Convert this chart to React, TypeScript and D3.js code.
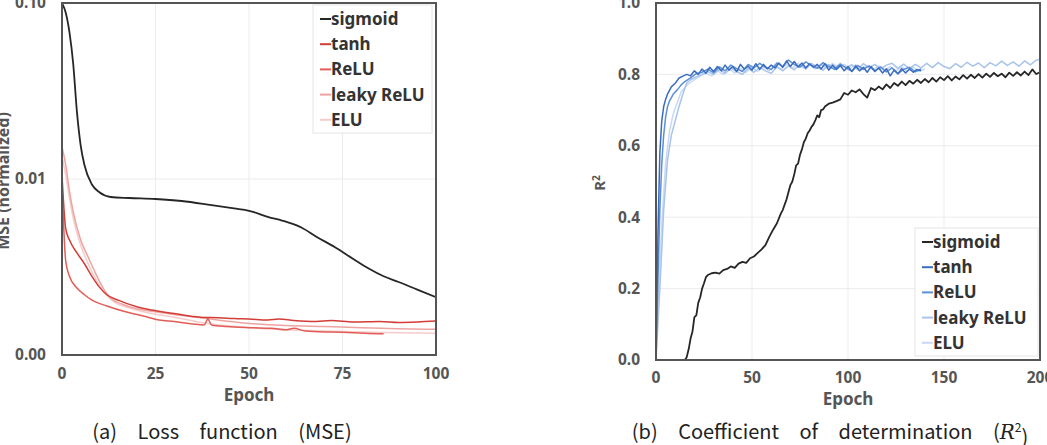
import React, { useEffect, useRef } from 'react';
import * as d3 from 'd3';

type Pt = [number, number];

// ---- (a) MSE, log scale ----
const mseTicksX = [0, 25, 50, 75, 100];
const mseTicksY = [0.1, 0.01, 0.001];
const mseTickLabels = ['0.10', '0.01', '0.00'];

const mseSigmoid: Pt[] = [
  [0, 0.1], [1, 0.088], [2, 0.068], [3, 0.045], [4, 0.024], [5, 0.0155], [6, 0.012], [8, 0.0093],
  [10, 0.0084], [13, 0.0079], [18, 0.0078], [25, 0.0077], [32, 0.0075], [40, 0.0071], [46, 0.0068],
  [50, 0.0066], [55, 0.0061], [60, 0.0057], [64, 0.0053], [68, 0.0047], [73, 0.0041], [78, 0.0035],
  [82, 0.0031], [86, 0.0028], [90, 0.0026], [95, 0.00235], [100, 0.00213],
];
const mseTanh: Pt[] = [
  [0, 0.0105], [1, 0.0052], [2, 0.0045], [4, 0.0038], [6, 0.0033], [8, 0.0028], [10, 0.00243],
  [12, 0.0022], [15, 0.00205], [20, 0.00188], [24, 0.0018], [30, 0.00172], [37, 0.00164],
  [42, 0.00163], [46, 0.00161], [50, 0.0016], [55, 0.00158], [58, 0.0016], [62, 0.00157],
  [68, 0.00155], [72, 0.00157], [78, 0.00154], [85, 0.00155], [90, 0.00153], [95, 0.00154], [100, 0.00156],
];
const mseRelu: Pt[] = [
  [0, 0.0095], [1, 0.0034], [2, 0.0028], [4, 0.0024], [6, 0.0022], [8, 0.00205], [12, 0.0019],
  [17, 0.00176], [22, 0.00166], [26, 0.00158], [30, 0.00155], [35, 0.0015], [38, 0.00148],
  [39, 0.0016], [40, 0.00148], [44, 0.00145], [50, 0.00143], [56, 0.00142], [60, 0.00139],
  [62, 0.00142], [65, 0.00137], [72, 0.00135], [78, 0.00134], [81, 0.00133], [86, 0.00132],
];
const mseLeaky: Pt[] = [
  [0, 0.0152], [1, 0.012], [2, 0.0085], [3, 0.0065], [5, 0.0045], [7, 0.0036], [9, 0.0029],
  [11, 0.0024], [13, 0.0021], [16, 0.00195], [20, 0.00183], [25, 0.00176], [30, 0.0017],
  [38, 0.00162], [45, 0.00155], [52, 0.0015], [60, 0.00147], [70, 0.00145], [80, 0.00143],
  [90, 0.00141], [100, 0.0014],
];
const mseElu: Pt[] = [
  [0, 0.0135], [1, 0.0105], [2, 0.0078], [3, 0.006], [5, 0.0042], [7, 0.0033], [9, 0.0027],
  [11, 0.0023], [14, 0.002], [18, 0.00185], [24, 0.00172], [30, 0.00164], [38, 0.00152],
  [45, 0.00146], [52, 0.00142], [60, 0.00139], [70, 0.00137], [80, 0.00135], [90, 0.00134], [100, 0.00133],
];

// ---- (b) R^2 ----
const r2TicksX = [0, 50, 100, 150, 200];
const r2TicksY = [0, 0.2, 0.4, 0.6, 0.8, 1.0];

const r2Sigmoid: Pt[] = [
  [0, 0], [15, 0], [16, 0.008], [17, 0.03], [18, 0.06], [19, 0.08], [20, 0.12], [21, 0.125], [22, 0.16],
  [23, 0.175], [24, 0.2], [25, 0.215], [26, 0.232], [27, 0.238], [29, 0.243], [31, 0.245], [33, 0.242],
  [35, 0.252], [37, 0.255], [39, 0.262], [41, 0.258], [43, 0.27], [45, 0.275], [47, 0.272], [49, 0.285],
  [51, 0.29], [53, 0.3], [55, 0.31], [57, 0.322], [59, 0.345], [61, 0.365], [63, 0.383], [65, 0.41],
  [66, 0.42], [68, 0.45], [70, 0.49], [71, 0.5], [72, 0.52], [73, 0.545], [74, 0.55], [75, 0.575],
  [76, 0.59], [77, 0.61], [78, 0.62], [79, 0.635], [80, 0.643], [81, 0.653], [82, 0.66], [83, 0.672],
  [84, 0.685], [85, 0.68], [86, 0.7], [87, 0.702], [88, 0.71], [90, 0.718], [92, 0.721], [94, 0.725],
  [96, 0.73], [98, 0.748], [100, 0.743], [102, 0.755], [104, 0.75], [106, 0.758], [108, 0.745],
  [110, 0.735], [112, 0.762], [114, 0.756], [116, 0.766], [118, 0.758], [120, 0.772], [122, 0.762],
  [124, 0.776], [126, 0.768], [128, 0.78], [130, 0.77], [132, 0.782], [134, 0.774], [136, 0.785],
  [138, 0.776], [140, 0.787], [142, 0.778], [144, 0.79], [146, 0.78], [148, 0.792], [150, 0.784],
  [152, 0.795], [154, 0.783], [156, 0.794], [158, 0.786], [160, 0.798], [162, 0.788], [164, 0.799],
  [166, 0.79], [168, 0.801], [170, 0.791], [172, 0.802], [174, 0.793], [176, 0.804], [178, 0.795],
  [180, 0.802], [182, 0.792], [184, 0.805], [186, 0.796], [188, 0.806], [190, 0.797], [192, 0.808],
  [194, 0.798], [196, 0.814], [198, 0.801], [200, 0.806],
];
const r2Tanh: Pt[] = [
  [0, 0], [1, 0.35], [2, 0.58], [3, 0.67], [4, 0.71], [5, 0.73], [6, 0.745], [8, 0.765], [10, 0.775],
  [12, 0.79], [14, 0.795], [16, 0.8], [18, 0.796], [20, 0.81], [22, 0.8], [24, 0.815], [26, 0.803],
  [28, 0.82], [30, 0.808], [32, 0.822], [34, 0.81], [36, 0.826], [38, 0.812], [40, 0.822], [42, 0.808],
  [44, 0.828], [46, 0.815], [48, 0.823], [50, 0.812], [52, 0.83], [54, 0.814], [56, 0.828], [58, 0.816],
  [60, 0.826], [62, 0.818], [64, 0.832], [66, 0.82], [68, 0.838], [70, 0.822], [72, 0.836], [74, 0.821],
  [76, 0.832], [78, 0.818], [80, 0.83], [82, 0.82], [84, 0.828], [86, 0.815], [88, 0.83], [90, 0.812],
  [92, 0.826], [94, 0.814], [96, 0.825], [98, 0.81], [100, 0.822], [102, 0.808], [104, 0.824], [106, 0.81],
  [108, 0.82], [110, 0.806], [112, 0.822], [114, 0.808], [116, 0.818], [118, 0.804], [120, 0.816],
  [122, 0.796], [124, 0.812], [126, 0.802], [128, 0.816], [130, 0.804], [132, 0.815], [134, 0.806],
  [136, 0.814], [138, 0.81],
];
const r2Relu: Pt[] = [
  [0, 0], [1, 0.22], [2, 0.42], [3, 0.55], [4, 0.63], [5, 0.68], [6, 0.71], [7, 0.725], [9, 0.745],
  [11, 0.756], [13, 0.77], [15, 0.78], [18, 0.79], [21, 0.802], [24, 0.806], [27, 0.815], [30, 0.805],
  [33, 0.821], [36, 0.81], [39, 0.826], [42, 0.816], [45, 0.808], [48, 0.828], [51, 0.818], [54, 0.831],
  [57, 0.82], [60, 0.814], [63, 0.832], [66, 0.822], [69, 0.84], [72, 0.828], [75, 0.82], [78, 0.835],
  [81, 0.825], [84, 0.817], [87, 0.833], [90, 0.822], [93, 0.814], [96, 0.828], [99, 0.818], [102, 0.809],
  [105, 0.825], [108, 0.814], [111, 0.824], [114, 0.81], [117, 0.821], [120, 0.807], [123, 0.818],
  [126, 0.802], [129, 0.814], [132, 0.82], [135, 0.807], [138, 0.815],
];
const r2Leaky: Pt[] = [
  [0, 0], [2, 0.2], [4, 0.42], [6, 0.56], [8, 0.63], [10, 0.67], [12, 0.71], [14, 0.745], [16, 0.776],
  [18, 0.785], [21, 0.793], [24, 0.8], [27, 0.808], [30, 0.8], [33, 0.814], [36, 0.803], [39, 0.818],
  [42, 0.808], [45, 0.8], [48, 0.817], [51, 0.806], [54, 0.82], [57, 0.81], [60, 0.803], [63, 0.821],
  [66, 0.81], [69, 0.824], [72, 0.813], [75, 0.827], [78, 0.815], [81, 0.831], [84, 0.82], [87, 0.812],
  [90, 0.828], [93, 0.817], [96, 0.831], [99, 0.818], [102, 0.827], [105, 0.814], [108, 0.83], [111, 0.818],
  [114, 0.828], [117, 0.815], [120, 0.826], [123, 0.831], [126, 0.817], [129, 0.829], [132, 0.816],
  [135, 0.828], [138, 0.818], [141, 0.831], [144, 0.819], [147, 0.833], [150, 0.822], [153, 0.816],
  [156, 0.83], [159, 0.82], [162, 0.834], [165, 0.823], [168, 0.832], [171, 0.819], [174, 0.833],
  [177, 0.824], [180, 0.837], [183, 0.825], [186, 0.835], [189, 0.823], [192, 0.838], [195, 0.827],
  [198, 0.84], [200, 0.842],
];
const r2Elu: Pt[] = [
  [0, 0], [1, 0.15], [3, 0.38], [5, 0.55], [7, 0.64], [9, 0.69], [11, 0.72], [13, 0.75], [16, 0.77],
  [20, 0.785], [23, 0.795], [26, 0.803], [29, 0.796], [32, 0.81], [35, 0.8], [38, 0.815], [41, 0.804],
  [44, 0.817], [47, 0.806], [50, 0.82], [53, 0.808], [56, 0.822], [59, 0.81], [62, 0.825], [65, 0.814],
  [68, 0.828], [71, 0.817], [74, 0.831], [77, 0.818], [80, 0.828], [83, 0.815], [86, 0.829], [89, 0.817],
  [92, 0.831], [95, 0.819], [98, 0.828], [101, 0.816], [104, 0.827], [107, 0.814], [110, 0.825],
  [113, 0.813], [116, 0.824], [119, 0.811], [122, 0.822], [125, 0.81], [128, 0.821], [131, 0.809],
  [134, 0.82], [137, 0.808], [140, 0.815],
];

const names = ['sigmoid', 'tanh', 'ReLU', 'leaky ReLU', 'ELU'];
const redColors = ['#262626', '#d23d38', '#e25d58', '#eea3a1', '#f6cccb'];
const blueColors = ['#262626', '#3a6cbf', '#5d8fd5', '#a8c4ea', '#c8daf3'];

const FONT = "'Noto Sans', 'DejaVu Sans', sans-serif";
const CAP_FONT = "'Noto Sans CJK KR', 'Noto Sans', sans-serif";

export default function App() {
  const ref = useRef<SVGSVGElement>(null);

  useEffect(() => {
    const svg = d3.select(ref.current);
    svg.selectAll('*').remove();

    const panel = (opts: {
      x: d3.ScaleLinear<number, number>;
      y: any;
      ticksX: number[];
      ticksY: number[];
      labelsY: string[];
      series: Pt[][];
      colors: string[];
      smooth: boolean;
      id: string;
      xLabelY: number;
      tickLabelY: number;
      legend: { x: number; y: number; w: number; h: number };
    }) => {
      const { x, y, ticksX, ticksY, labelsY, series, colors, smooth, id, legend } = opts;
      const [x0, x1] = x.range();
      const y0 = y.range()[0];
      const y1 = y.range()[1];
      const g = svg.append('g');

      g.append('clipPath')
        .attr('id', id)
        .append('rect')
        .attr('x', x0)
        .attr('y', y1)
        .attr('width', x1 - x0)
        .attr('height', y0 - y1);

      // grid
      g.selectAll('.gx')
        .data(ticksX.slice(1, -1))
        .enter()
        .append('line')
        .attr('x1', d => x(d))
        .attr('x2', d => x(d))
        .attr('y1', y1)
        .attr('y2', y0)
        .attr('stroke', '#ececec');
      g.selectAll('.gy')
        .data(ticksY.filter(d => y(d) > y1 + 1 && y(d) < y0 - 1))
        .enter()
        .append('line')
        .attr('x1', x0)
        .attr('x2', x1)
        .attr('y1', d => y(d))
        .attr('y2', d => y(d))
        .attr('stroke', '#ececec');

      // lines, back to front
      const line = d3
        .line<Pt>()
        .x(d => x(d[0]))
        .y(d => y(d[1]))
        .curve(smooth ? d3.curveMonotoneX : d3.curveLinear);
      [4, 3, 2, 1, 0].forEach(i => {
        g.append('path')
          .attr('d', line(series[i]) as string)
          .attr('clip-path', `url(#${id})`)
          .attr('fill', 'none')
          .attr('stroke', colors[i])
          .attr('stroke-width', i === 0 ? 1.8 : 1.5)
          .attr('stroke-linejoin', 'round');
      });

      // frame
      g.append('rect')
        .attr('x', x0)
        .attr('y', y1)
        .attr('width', x1 - x0)
        .attr('height', y0 - y1)
        .attr('fill', 'none')
        .attr('stroke', '#555')
        .attr('stroke-width', 2);

      // tick labels
      g.selectAll('.tx')
        .data(ticksX)
        .enter()
        .append('text')
        .attr('x', d => x(d))
        .attr('y', opts.tickLabelY)
        .attr('text-anchor', 'middle')
        .attr('font-family', FONT)
        .attr('font-weight', 700)
        .attr('font-size', 15.5)
        .attr('fill', '#555')
        .text(d => String(d));
      g.selectAll('.ty')
        .data(ticksY)
        .enter()
        .append('text')
        .attr('x', x0 - 16)
        .attr('y', d => y(d))
        .attr('dy', '0.35em')
        .attr('text-anchor', 'end')
        .attr('font-family', FONT)
        .attr('font-weight', 700)
        .attr('font-size', 15.5)
        .attr('fill', '#555')
        .text((d, i) => labelsY[i]);

      g.append('text')
        .attr('x', (x0 + x1) / 2)
        .attr('y', opts.xLabelY)
        .attr('text-anchor', 'middle')
        .attr('font-family', FONT)
        .attr('font-weight', 700)
        .attr('font-size', 17)
        .attr('fill', '#555')
        .text('Epoch');

      // legend
      const lg = g.append('g');
      lg.append('rect')
        .attr('x', legend.x)
        .attr('y', legend.y)
        .attr('width', legend.w)
        .attr('height', legend.h)
        .attr('fill', '#fff')
        .attr('stroke', '#e4e4e4');
      names.forEach((n, i) => {
        const cy = legend.y + 14 + i * 25.2;
        lg.append('line')
          .attr('x1', legend.x + 7)
          .attr('x2', legend.x + 18)
          .attr('y1', cy)
          .attr('y2', cy)
          .attr('stroke', colors[i])
          .attr('stroke-width', 2);
        lg.append('text')
          .attr('x', legend.x + 18)
          .attr('y', cy)
          .attr('dy', '0.35em')
          .attr('font-family', FONT)
          .attr('font-weight', 700)
          .attr('font-size', 17)
          .attr('fill', '#333')
          .text(n);
      });
    };

    // (a)
    const xa = d3.scaleLinear().domain([0, 100]).range([62, 436]);
    const ya = d3.scaleLog().domain([0.001, 0.1]).range([355, 3]);
    panel({
      x: xa,
      y: ya,
      ticksX: mseTicksX,
      ticksY: mseTicksY,
      labelsY: mseTickLabels,
      series: [mseSigmoid, mseTanh, mseRelu, mseLeaky, mseElu],
      colors: redColors,
      smooth: true,
      id: 'clipA',
      tickLabelY: 379,
      xLabelY: 401,
      legend: { x: 313, y: 5, w: 119, h: 128 },
    });

    // (b)
    const xb = d3.scaleLinear().domain([0, 200]).range([656, 1040]);
    const yb = d3.scaleLinear().domain([0, 1]).range([360, 3]);
    panel({
      x: xb,
      y: yb,
      ticksX: r2TicksX,
      ticksY: r2TicksY,
      labelsY: r2TicksY.map(d => d3.format('.1f')(d)),
      series: [r2Sigmoid, r2Tanh, r2Relu, r2Leaky, r2Elu],
      colors: blueColors,
      smooth: false,
      id: 'clipB',
      tickLabelY: 383,
      xLabelY: 405,
      legend: { x: 915, y: 228, w: 123, h: 128 },
    });

    // y axis titles
    svg.append('text')
      .attr('transform', 'translate(3,181) rotate(-90)')
      .attr('text-anchor', 'middle')
      .attr('dy', '0.35em')
      .attr('font-family', FONT)
      .attr('font-weight', 700)
      .attr('font-size', 16)
      .attr('fill', '#555')
      .text('MSE (normalized)');
    const r2 = svg.append('text')
      .attr('transform', 'translate(600,183) rotate(-90)')
      .attr('text-anchor', 'middle')
      .attr('dy', '0.35em')
      .attr('font-family', FONT)
      .attr('font-weight', 700)
      .attr('font-size', 15)
      .attr('fill', '#555');
    r2.append('tspan').text('R');
    r2.append('tspan').attr('font-size', 10).attr('dy', '-0.5em').text('2');

    // captions
    svg.append('text')
      .attr('x', 222)
      .attr('y', 439)
      .attr('text-anchor', 'middle')
      .attr('font-family', CAP_FONT)
      .attr('font-size', 20)
      .attr('word-spacing', 16)
      .attr('fill', '#222')
      .text('(a) Loss function (MSE)');
    const cb = svg.append('text')
      .attr('x', 830)
      .attr('y', 439)
      .attr('text-anchor', 'middle')
      .attr('font-family', CAP_FONT)
      .attr('font-size', 20)
      .attr('word-spacing', 16)
      .attr('fill', '#222');
    cb.append('tspan').text('(b) Coefficient of determination (');
    cb.append('tspan')
      .attr('font-family', "'DejaVu Serif', 'Liberation Serif', serif")
      .attr('font-style', 'italic')
      .text('R');
    cb.append('tspan').attr('font-size', 12).attr('dy', '-0.6em').text('2');
    cb.append('tspan').attr('dy', '0.6em').text(')');
  }, []);

  return (
    <svg
      ref={ref}
      width={1047}
      height={445}
      style={{ position: 'absolute', left: 0, top: 0, background: '#fff' }}
    />
  );
}
